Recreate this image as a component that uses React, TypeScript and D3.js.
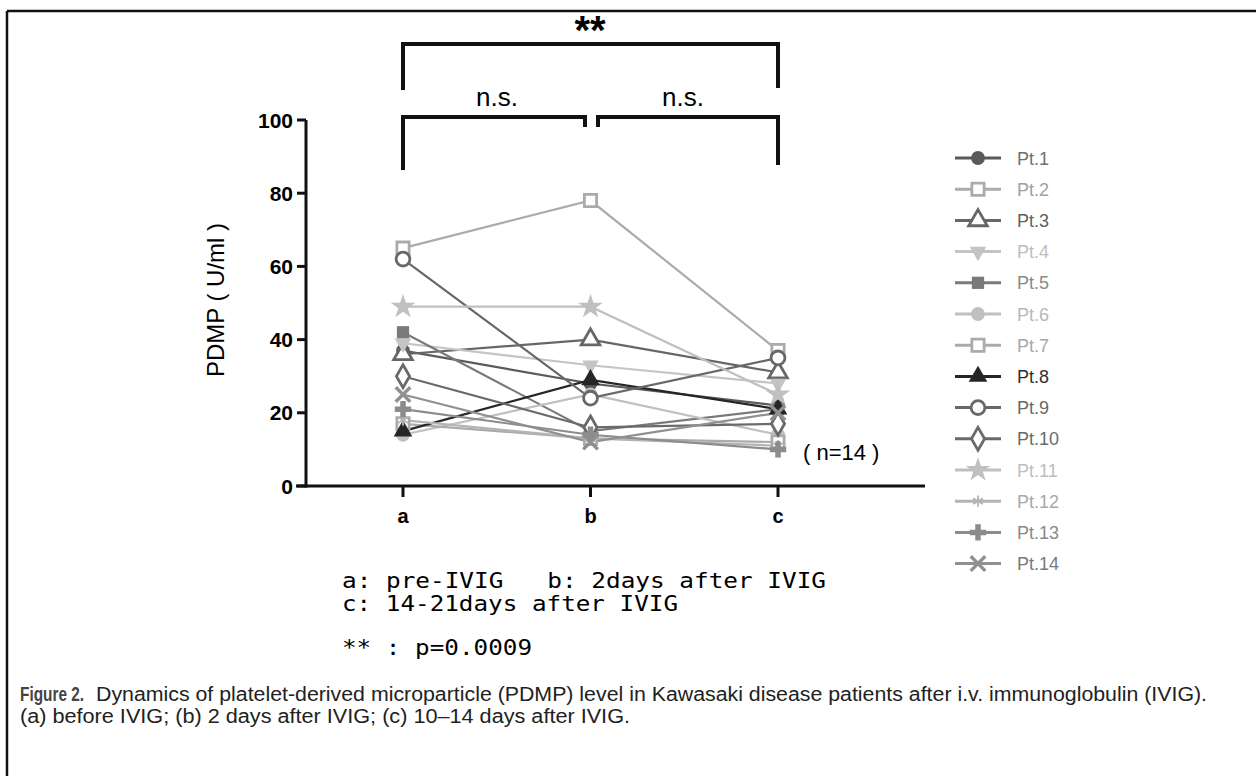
import React from "react";
import * as d3 from "d3";

const timepoints = ["a", "b", "c"];
const yTicks = [0, 20, 40, 60, 80, 100];
const patients = ["Pt.1","Pt.2","Pt.3","Pt.4","Pt.5","Pt.6","Pt.7","Pt.8","Pt.9","Pt.10","Pt.11","Pt.12","Pt.13","Pt.14"];
const values: number[][] = [
  [37, 28, 22],
  [65, 78, 37],
  [36, 40, 31],
  [39, 33, 28],
  [42, 15, 21],
  [14, 25, 14],
  [17, 13, 12],
  [15, 29, 21],
  [62, 24, 35],
  [30, 16, 17],
  [49, 49, 25],
  [18, 13, 11],
  [21, 14, 10],
  [25, 12, 20],
];
const colors = ["#5a5a5a","#ababab","#666666","#c4c4c4","#7a7a7a","#c0c0c0","#ababab","#262626","#686868","#6a6a6a","#c0c0c0","#b4b4b4","#8c8c8c","#909090"];
const textColors = ["#707070","#a0a0a0","#606060","#bdbdbd","#8a8a8a","#b8b8b8","#a8a8a8","#303030","#6a6a6a","#6a6a6a","#bdbdbd","#a8a8a8","#8a8a8a","#7a7a7a"];
const shapes = ["circleF","squareO","triangleO","triDownF","squareF","circleF","squareO","triangleF","circleO","diamondO","star","smallPlus","plus","x"];

function Marker({ shape, color, x, y, s = 1 }: { shape: string; color: string; x: number; y: number; s?: number }) {
  const open = shape.endsWith("O");
  let path = "";
  let rot = 0;
  let sw = open ? 2.8 : 0;
  let fill = open ? "white" : color;
  let stroke = open ? color : "none";
  const k = s;
  if (shape.startsWith("circle")) path = d3.symbol(d3.symbolCircle, 150 * k)()!;
  else if (shape.startsWith("square")) path = d3.symbol(d3.symbolSquare, 150 * k)()!;
  else if (shape === "triangleO" || shape === "triangleF") path = d3.symbol(d3.symbolTriangle, 150 * k)()!;
  else if (shape === "triDownF") { path = d3.symbol(d3.symbolTriangle, 120 * k)()!; rot = 180; }
  else if (shape === "diamondO") path = d3.symbol(d3.symbolDiamond, 150 * k)()!;
  else if (shape === "star") path = d3.symbol(d3.symbolStar, 190 * k)()!;
  else if (shape === "smallPlus") { path = d3.symbol(d3.symbolAsterisk, 90 * k)()!; fill = "none"; stroke = color; sw = 1.8; }
  else if (shape === "plus") { path = d3.symbol(d3.symbolCross, 150 * k)()!; }
  else if (shape === "x") { path = d3.symbol(d3.symbolTimes, 140 * k)()!; fill = "none"; stroke = color; sw = 3.4; }
  return <path d={path} transform={`translate(${x},${y}) rotate(${rot})`} fill={fill} stroke={stroke} strokeWidth={sw} />;
}

export default function App() {
  const W = 1256, H = 776;
  const x = d3.scalePoint<string>().domain(timepoints).range([403, 778]);
  const y = d3.scaleLinear().domain([0, 100]).range([486, 120]);
  const line = d3.line<number>().x((_, i) => x(timepoints[i])!).y(d => y(d));
  const sans = "'Liberation Sans', Arial, sans-serif";
  const mono = "'DejaVu Sans Mono', monospace";
  const legendY = (i: number) => 158 + i * 31.2;
  return (
    <svg width={W} height={H} style={{ position: "absolute", left: 0, top: 0, background: "white" }}>
      <rect x={0} y={0} width={W} height={H} fill="white" />
      {/* frame */}
      <line x1={7} y1={11} x2={W} y2={11} stroke="#111" strokeWidth={2.5} />
      <line x1={7} y1={11} x2={7} y2={H} stroke="#111" strokeWidth={2.5} />

      {/* significance brackets */}
      <text x={590} y={44} textAnchor="middle" fontFamily={sans} fontWeight="bold" fontSize={40}>**</text>
      <path d={`M${x("a")},90 V44 H${x("c")} V88`} fill="none" stroke="#111" strokeWidth={4} />
      <text x={497} y={106} textAnchor="middle" fontFamily={sans} fontSize={26}>n.s.</text>
      <text x={683} y={106} textAnchor="middle" fontFamily={sans} fontSize={26}>n.s.</text>
      <path d={`M${x("a")},170 V117 H585 V127`} fill="none" stroke="#111" strokeWidth={4} />
      <path d={`M598,127 V117 H${x("c")} V165`} fill="none" stroke="#111" strokeWidth={4} />

      {/* series */}
      {values.map((v, i) => (
        <path key={"l" + i} d={line(v)!} fill="none" stroke={colors[i]} strokeWidth={2.2} />
      ))}
      {values.map((v, i) => (
        <g key={"m" + i}>
          {v.map((d, j) => (
            <Marker key={j} shape={shapes[i]} color={colors[i]} x={x(timepoints[j])!} y={y(d)} />
          ))}
        </g>
      ))}

      {/* axes */}
      <line x1={306} y1={y(100)} x2={306} y2={y(0) + 1.5} stroke="#111" strokeWidth={3} />
      <line x1={296} y1={y(0)} x2={925} y2={y(0)} stroke="#111" strokeWidth={3} />
      {yTicks.map(t => (
        <g key={t}>
          <line x1={297} x2={306} y1={y(t)} y2={y(t)} stroke="#111" strokeWidth={3} />
          <text x={293} y={y(t) + 7.5} textAnchor="end" fontFamily={sans} fontWeight="bold" fontSize={21}>{t}</text>
        </g>
      ))}
      {timepoints.map(t => (
        <g key={t}>
          <line x1={x(t)!} x2={x(t)!} y1={y(0)} y2={y(0) + 11} stroke="#111" strokeWidth={3} />
          <text x={x(t)!} y={523} textAnchor="middle" fontFamily={sans} fontWeight="bold" fontSize={20}>{t}</text>
        </g>
      ))}
      <text transform="translate(224,300) rotate(-90)" textAnchor="middle" fontFamily={sans} fontSize={24}>PDMP ( U/ml )</text>
      <text x={803} y={460} fontFamily={sans} fontSize={22} xmlSpace="preserve">( n=14 )</text>

      {/* legend */}
      {patients.map((p, i) => (
        <g key={p}>
          <line x1={955} x2={1001} y1={legendY(i)} y2={legendY(i)} stroke={colors[i]} strokeWidth={3} />
          <Marker shape={shapes[i]} color={colors[i]} x={978} y={legendY(i)} />
          <text x={1017} y={legendY(i) + 6.5} fontFamily={sans} fontSize={18} fill={textColors[i]}>{p}</text>
        </g>
      ))}

      {/* notes */}
      <text x={342} y={588} fontFamily={mono} fontSize={22} textLength={484} lengthAdjust="spacingAndGlyphs" xmlSpace="preserve">a: pre-IVIG   b: 2days after IVIG</text>
      <text x={342} y={611} fontFamily={mono} fontSize={22} textLength={336} lengthAdjust="spacingAndGlyphs">c: 14-21days after IVIG</text>
      <text x={342} y={655} fontFamily={mono} fontSize={22} textLength={190} lengthAdjust="spacingAndGlyphs" xmlSpace="preserve">** : p=0.0009</text>

      {/* caption */}
      <text x={20} y={701} fontFamily={sans} fontSize={19.5} fontWeight="bold" fill="#444" textLength={64} lengthAdjust="spacingAndGlyphs">Figure 2.</text>
      <text x={96} y={701} fontFamily={sans} fontSize={19.5} fill="#222" textLength={1111} lengthAdjust="spacingAndGlyphs">Dynamics of platelet-derived microparticle (PDMP) level in Kawasaki disease patients after i.v. immunoglobulin (IVIG).</text>
      <text x={20} y={723} fontFamily={sans} fontSize={19.5} fill="#222" textLength={610} lengthAdjust="spacingAndGlyphs">(a) before IVIG; (b) 2 days after IVIG; (c) 10–14 days after IVIG.</text>
    </svg>
  );
}
